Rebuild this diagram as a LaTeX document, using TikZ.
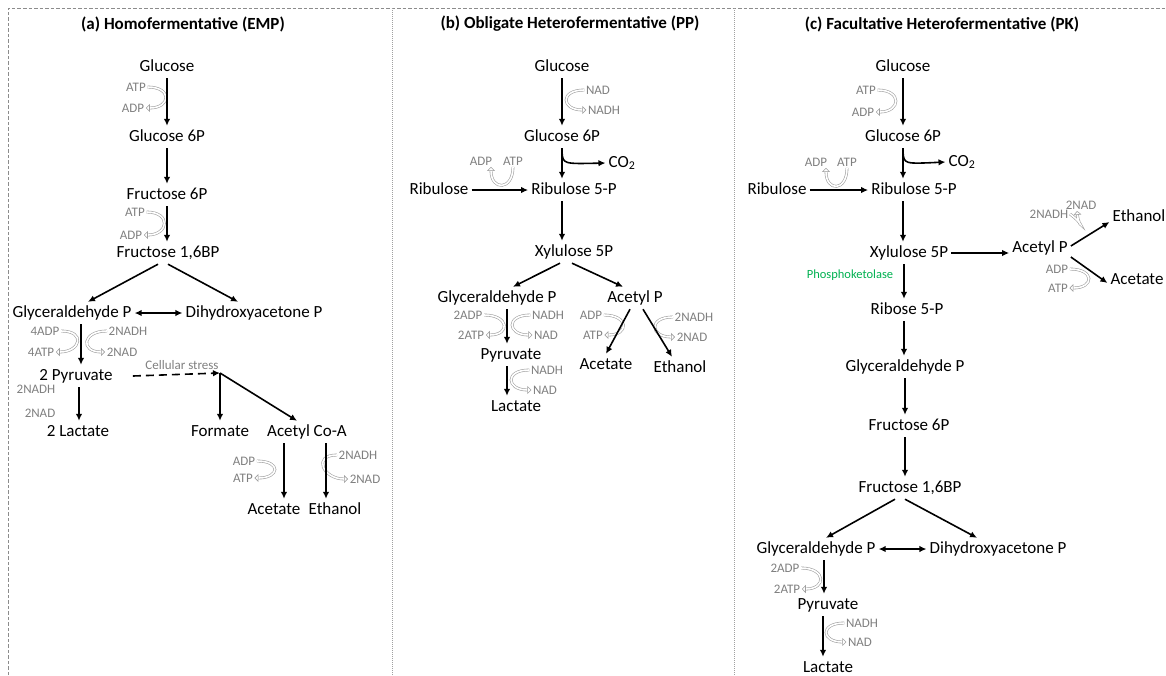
\documentclass[tikz,border=0pt]{standalone}
\usepackage{fontspec}
\setmainfont{Carlito}
\usepackage{tikz}
\usetikzlibrary{arrows.meta}
\definecolor{grau}{HTML}{7F7F7F}
\definecolor{hgrau}{HTML}{A0A0A0}
\definecolor{rahmen}{HTML}{8C8C8C}
\definecolor{gruen}{HTML}{00B050}
\tikzset{
  met/.style={font=\fontsize{17}{20}\selectfont,inner sep=3pt,text height=12pt,text depth=4pt},
  titel/.style={font=\fontsize{17}{20}\selectfont\bfseries,inner sep=2pt},
  cf/.style={font=\fontsize{13}{15}\selectfont,text=grau,inner sep=1.5pt},
  enz/.style={font=\fontsize{12.5}{15}\selectfont,text=gruen,inner sep=1.5pt},
  rx/.style={-{Latex[length=7pt,width=6.5pt]},line width=1.6pt},
  rxx/.style={{Latex[length=7pt,width=6.5pt]}-{Latex[length=7pt,width=6.5pt]},line width=1.6pt},
  cof/.style={draw=hgrau,double=white,double distance=1.6pt,line width=0.6pt,-{Triangle[open,length=4pt,width=8pt]}},
  rahmenl/.style={rahmen,line width=1pt,dash pattern=on 3.5pt off 2pt},
  trenn/.style={hgrau,line width=0.6pt,dash pattern=on 1pt off 1pt},
}
\begin{document}
\begin{tikzpicture}[x=1pt,y=-1pt]
  \useasboundingbox (0,0) rectangle (1166,675);
  \draw[rahmenl] (8,675) -- (8,8) -- (1166,8);
  \draw[trenn] (392,8) -- (392,675);
  \draw[trenn] (734,8) -- (734,675);
  % (a) homofermentative
  \node[titel] (a-t) at (183,24) {(a) Homofermentative (EMP)};
  \node[met] (a-glc) at (167,67) {Glucose};
  \node[met] (a-g6p) at (167,137) {Glucose 6P};
  \node[met] (a-f6p) at (167,195) {Fructose 6P};
  \node[met] (a-fbp) at (168,253) {Fructose 1,6BP};
  \node[met] (a-gap) at (72,313) {Glyceraldehyde P};
  \node[met] (a-dhap) at (254,313) {Dihydroxyacetone P};
  \node[met] (a-pyr) at (76,376) {2 Pyruvate};
  \node[met] (a-lac) at (78,432) {2 Lactate};
  \node[met] (a-for) at (220,432) {Formate};
  \node[met] (a-aca) at (307,432) {Acetyl Co-A};
  \node[met] (a-ace) at (274,510) {Acetate};
  \node[met] (a-eth) at (335,510) {Ethanol};
  \coordinate (a-cs) at (220,373);
  \node[cf] (a-csl) at (182,365) {Cellular stress};
  \node[cf] (a-atp1) at (136,87) {ATP};
  \node[cf] (a-adp1) at (133,108) {ADP};
  \node[cf] (a-atp2) at (135,212) {ATP};
  \node[cf] (a-adp2) at (131,235) {ADP};
  \node[cf] (a-adp4) at (45,331) {4ADP};
  \node[cf] (a-atp4) at (41,352) {4ATP};
  \node[cf] (a-nadh1) at (128,331) {2NADH};
  \node[cf] (a-nad1) at (122,352) {2NAD};
  \node[cf] (a-nadh2) at (36,389) {2NADH};
  \node[cf] (a-nad2) at (40,413) {2NAD};
  \node[cf] (a-adp5) at (244,461) {ADP};
  \node[cf] (a-atp5) at (243,478) {ATP};
  \node[cf] (a-nadh5) at (358,455) {2NADH};
  \node[cf] (a-nad5) at (365,479) {2NAD};
  \draw[cof] (a-atp1.east) .. controls +(25,0) and +(25,0) .. (a-adp1.east);
  \draw[cof] (a-atp2.east) .. controls +(25,0) and +(25,0) .. (a-adp2.east);
  \draw[cof] (a-adp4.east) .. controls +(25,0) and +(25,0) .. (a-atp4.east);
  \draw[cof] (a-nadh1.west) .. controls +(-25,0) and +(-25,0) .. (a-nad1.west);
  \draw[cof] (a-adp5.east) .. controls +(25,0) and +(25,0) .. (a-atp5.east);
  \draw[cof] (a-nadh5.west) .. controls +(-25,0) and +(-25,0) .. (a-nad5.west);
  \draw[rx] (a-glc.south) -- (a-glc.south |- a-g6p.north);
  \draw[rx] (a-g6p.south) -- (a-g6p.south |- a-f6p.north);
  \draw[rx] (a-f6p.south) -- (a-f6p.south |- a-fbp.north);
  \draw[rx] ([xshift=-10pt]a-fbp.south) -- ([xshift=16pt]a-gap.north);
  \draw[rx] (a-fbp.south) -- ([xshift=-16pt]a-dhap.north);
  \draw[rxx] (a-gap.east) -- (a-dhap.west);
  \draw[rx] ([xshift=9pt]a-gap.south) -- ([xshift=9pt]a-gap.south |- a-pyr.north);
  \draw[rx] ([xshift=3pt]a-pyr.south) -- ([xshift=3pt]a-pyr.south |- a-lac.north);
  \draw[rx,dash pattern=on 8pt off 5pt] ([xshift=17pt]a-pyr.east) -- (a-cs);
  \draw[rx] (a-cs) -- (a-cs |- a-for.north);
  \draw[rx] (a-cs) -- ([xshift=-10pt]a-aca.north);
  \draw[rx] ([xshift=-23pt]a-aca.south) -- ([xshift=-23pt]a-aca.south |- a-ace.north);
  \draw[rx] ([xshift=19pt]a-aca.south) -- ([xshift=19pt]a-aca.south |- a-eth.north);
  % (b) obligate heterofermentative
  \node[titel] (b-t) at (570,24) {(b) Obligate Heterofermentative (PP)};
  \node[met] (b-glc) at (562,67) {Glucose};
  \node[met] (b-g6p) at (562,137) {Glucose 6P};
  \node[met] (b-co2) at (622,163) {CO\textsubscript{2}};
  \node[met] (b-rib) at (439,190) {Ribulose};
  \node[met] (b-r5p) at (574,190) {Ribulose 5-P};
  \node[met] (b-xyl) at (574,252) {Xylulose 5P};
  \node[met] (b-gap) at (497,298) {Glyceraldehyde P};
  \node[met] (b-acp) at (635,298) {Acetyl P};
  \node[met] (b-pyr) at (511,355) {Pyruvate};
  \node[met] (b-lac) at (516,407) {Lactate};
  \node[met] (b-ace) at (606,365) {Acetate};
  \node[met] (b-eth) at (680,368) {Ethanol};
  \coordinate (b-br) at (562,152);
  \node[cf] (b-nad1) at (598,90) {NAD};
  \node[cf] (b-nadh1) at (604,110) {NADH};
  \node[cf] (b-adp1) at (481,161) {ADP};
  \node[cf] (b-atp1) at (513,161) {ATP};
  \node[cf] (b-adp2) at (468,315) {2ADP};
  \node[cf] (b-atp2) at (471,335) {2ATP};
  \node[cf] (b-nadh2) at (548,315) {NADH};
  \node[cf] (b-nad2) at (546,335) {NAD};
  \node[cf] (b-nadh3) at (547,370) {NADH};
  \node[cf] (b-nad3) at (545,390) {NAD};
  \node[cf] (b-adp3) at (591,315) {ADP};
  \node[cf] (b-atp3) at (593,335) {ATP};
  \node[cf] (b-nadh4) at (694,317) {2NADH};
  \node[cf] (b-nad4) at (692,337) {2NAD};
  \draw[cof] (b-nad1.west) .. controls +(-25,0) and +(-25,0) .. (b-nadh1.west);
  \draw[cof] (b-atp1.south) .. controls +(0,24) and +(0,24) .. ([xshift=10pt]b-adp1.south);
  \draw[cof] (b-adp2.east) .. controls +(25,0) and +(25,0) .. (b-atp2.east);
  \draw[cof] (b-nadh2.west) .. controls +(-25,0) and +(-25,0) .. (b-nad2.west);
  \draw[cof] (b-nadh3.west) .. controls +(-25,0) and +(-25,0) .. (b-nad3.west);
  \draw[cof] (b-adp3.east) .. controls +(25,0) and +(25,0) .. (b-atp3.east);
  \draw[cof] (b-nadh4.west) .. controls +(-25,0) and +(-25,0) .. (b-nad4.west);
  \draw[rx] (b-glc.south) -- (b-glc.south |- b-g6p.north);
  \draw[rx] (b-g6p.south) -- (b-g6p.south |- b-r5p.north);
  \draw[rx] (b-br) .. controls (563,164) .. (b-co2.west);
  \draw[rx] (b-rib.east) -- (b-r5p.west);
  \draw[rx] ([xshift=-12pt]b-r5p.south) -- ([xshift=-12pt]b-r5p.south |- b-xyl.north);
  \draw[rx] ([xshift=-14pt]b-xyl.south) -- ([xshift=16pt]b-gap.north);
  \draw[rx] ([xshift=-2pt]b-xyl.south) -- ([xshift=-12pt]b-acp.north);
  \draw[rx] ([xshift=10pt]b-gap.south) -- ([xshift=10pt]b-gap.south |- b-pyr.north);
  \draw[rx] ([xshift=-4pt]b-pyr.south) -- ([xshift=-4pt]b-pyr.south |- b-lac.north);
  \draw[rx] ([xshift=-5pt]b-acp.south) -- (b-ace.north);
  \draw[rx] ([xshift=8pt]b-acp.south) -- ([xshift=-8pt]b-eth.north);
  % (c) facultative heterofermentative
  \node[titel] (c-t) at (942,24) {(c) Facultative Heterofermentative (PK)};
  \node[met] (c-glc) at (903,67) {Glucose};
  \node[met] (c-g6p) at (903,137) {Glucose 6P};
  \node[met] (c-co2) at (962,162) {CO\textsubscript{2}};
  \node[met] (c-rib) at (777,190) {Ribulose};
  \node[met] (c-r5p) at (914,190) {Ribulose 5-P};
  \node[met] (c-xyl) at (909,253) {Xylulose 5P};
  \node[met] (c-acp) at (1040,248) {Acetyl P};
  \node[met] (c-eth) at (1139,217) {Ethanol};
  \node[met] (c-ace) at (1137,280) {Acetate};
  \node[met] (c-rbp) at (907,310) {Ribose 5-P};
  \node[met] (c-gap1) at (905,367) {Glyceraldehyde P};
  \node[met] (c-f6p) at (909,426) {Fructose 6P};
  \node[met] (c-fbp) at (910,488) {Fructose 1,6BP};
  \node[met] (c-gap2) at (816,549) {Glyceraldehyde P};
  \node[met] (c-dhap) at (998,549) {Dihydroxyacetone P};
  \node[met] (c-pyr) at (828,605) {Pyruvate};
  \node[met] (c-lac) at (828,668) {Lactate};
  \node[enz] (c-phk) at (850,275) {Phosphoketolase};
  \coordinate (c-br) at (903,152);
  \node[cf] (c-atp1) at (866,90) {ATP};
  \node[cf] (c-adp1) at (863,112) {ADP};
  \node[cf] (c-adp2) at (816,162) {ADP};
  \node[cf] (c-atp2) at (847,162) {ATP};
  \node[cf] (c-nad3) at (1081,205) {2NAD};
  \node[cf] (c-nadh3) at (1049,214) {2NADH};
  \node[cf] (c-adp3) at (1057,269) {ADP};
  \node[cf] (c-atp3) at (1058,288) {ATP};
  \node[cf] (c-adp4) at (785,568) {2ADP};
  \node[cf] (c-atp4) at (787,589) {2ATP};
  \node[cf] (c-nadh4) at (862,623) {NADH};
  \node[cf] (c-nad4) at (860,642) {NAD};
  \draw[cof] (c-atp1.east) .. controls +(25,0) and +(25,0) .. (c-adp1.east);
  \draw[cof] (c-atp2.south) .. controls +(0,24) and +(0,24) .. ([xshift=10pt]c-adp2.south);
  \draw[cof] (c-nadh3.east) .. controls +(16,12) and +(2,18) .. ([xshift=-4pt]c-nad3.south);
  \draw[cof] (c-adp3.east) .. controls +(25,0) and +(25,0) .. (c-atp3.east);
  \draw[cof] (c-adp4.east) .. controls +(25,0) and +(25,0) .. (c-atp4.east);
  \draw[cof] (c-nadh4.west) .. controls +(-25,0) and +(-25,0) .. (c-nad4.west);
  \draw[rx] (c-glc.south) -- (c-glc.south |- c-g6p.north);
  \draw[rx] (c-g6p.south) -- (c-g6p.south |- c-r5p.north);
  \draw[rx] (c-br) .. controls (904,164) .. (c-co2.west);
  \draw[rx] (c-rib.east) -- (c-r5p.west);
  \draw[rx] ([xshift=-11pt]c-r5p.south) -- ([xshift=-11pt]c-r5p.south |- c-xyl.north);
  \draw[rx] (c-xyl.east) -- (c-xyl.east -| c-acp.west);
  \draw[rx] ([yshift=2pt]c-acp.east) -- ([yshift=-5pt]c-eth.west);
  \draw[rx] ([yshift=-9pt]c-acp.east) -- ([yshift=-3pt]c-ace.west);
  \draw[rx] ([xshift=-5pt]c-xyl.south) -- ([xshift=-5pt]c-xyl.south |- c-rbp.north);
  \draw[rx] ([xshift=-3pt]c-rbp.south) -- ([xshift=-3pt]c-rbp.south |- c-gap1.north);
  \draw[rx] (c-gap1.south) -- (c-gap1.south |- c-f6p.north);
  \draw[rx] ([xshift=-4pt]c-f6p.south) -- ([xshift=-4pt]c-f6p.south |- c-fbp.north);
  \draw[rx] ([xshift=-15pt]c-fbp.south) -- ([xshift=10pt]c-gap2.north);
  \draw[rx] ([xshift=-5pt]c-fbp.south) -- ([xshift=-21pt]c-dhap.north);
  \draw[rxx] (c-gap2.east) -- (c-dhap.west);
  \draw[rx] ([xshift=8pt]c-gap2.south) -- ([xshift=8pt]c-gap2.south |- c-pyr.north);
  \draw[rx] ([xshift=-5pt]c-pyr.south) -- ([xshift=-5pt]c-pyr.south |- c-lac.north);
\end{tikzpicture}
\end{document}
